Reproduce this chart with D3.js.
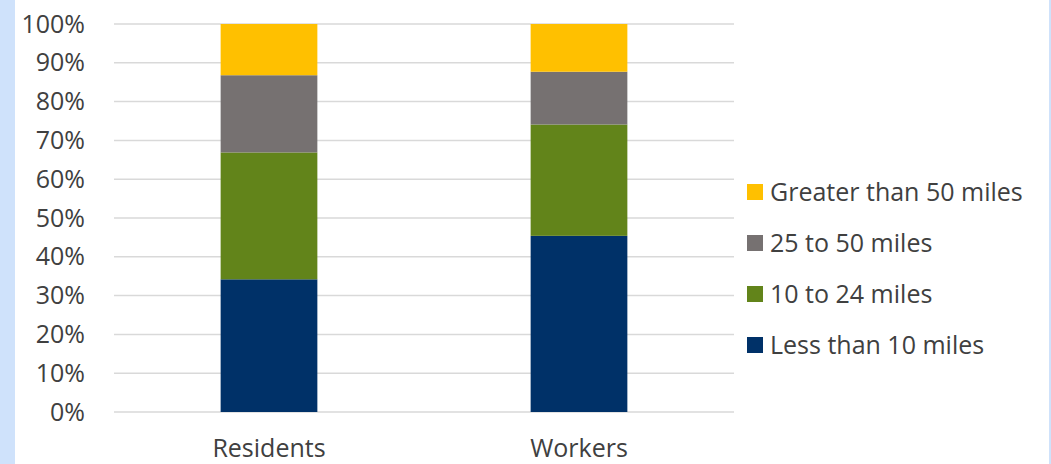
<!DOCTYPE html>
<html><head><meta charset="utf-8">
<script src="https://cdn.jsdelivr.net/npm/d3@7"></script>
<style>
html,body{margin:0;padding:0;background:#fff;}
svg{display:block;}
text{font-family:"Open Sans","Noto Sans",sans-serif;fill:#404040;}
</style></head>
<body>
<svg id="chart" width="1051" height="464"></svg>
<script>
const categories = ["Residents", "Workers"];
const seriesNames = ["Less than 10 miles", "10 to 24 miles", "25 to 50 miles", "Greater than 50 miles"];
const lessThan10 = [34.2, 45.4];
const from10to24 = [32.7, 28.7];
const from25to50 = [19.9, 13.6];
const greaterThan50 = [13.2, 12.3];
const colors = ["#003168", "#62841a", "#767171", "#ffc000"];
const yTicks = [0, 10, 20, 30, 40, 50, 60, 70, 80, 90, 100];

(function () {
const seriesValues = [lessThan10, from10to24, from25to50, greaterThan50];
const rows = categories.map((c, i) => {
  const r = {cat: c};
  seriesNames.forEach((s, j) => r[s] = seriesValues[j][i]);
  return r;
});
const stacked = d3.stack().keys(seriesNames)(rows);

const svg = d3.select("#chart");
svg.append("rect").attr("x",0).attr("y",0).attr("width",1051).attr("height",464).attr("fill","#cfe2fb");
svg.append("rect").attr("x",15).attr("y",0).attr("width",1034).attr("height",464).attr("fill","#ffffff");

const mLeft = 114, mRight = 734, mTop = 24, mBottom = 412;
const fs = "25px";
const x = d3.scaleBand().domain(categories).range([mLeft, mRight]).paddingInner(0.688).paddingOuter(0.344);
const y = d3.scaleLinear().domain([0, 100]).range([mBottom, mTop]);

const grid = svg.append("g");
grid.selectAll("line").data(yTicks).join("line")
  .attr("x1", mLeft).attr("x2", mRight)
  .attr("y1", d => y(d)).attr("y2", d => y(d))
  .attr("stroke", "#d9d9d9").attr("stroke-width", 1.5);

const yAxis = svg.append("g").attr("transform", `translate(${mLeft},0)`)
  .call(d3.axisLeft(y).tickValues(yTicks).tickFormat(d => d + "%").tickSize(0).tickPadding(29));
yAxis.select(".domain").remove();
yAxis.selectAll("text").style("font-size", fs).attr("fill","#404040");

svg.append("g").selectAll("g").data(stacked).join("g")
  .attr("fill", (d, i) => colors[i])
  .selectAll("rect").data(d => d).join("rect")
  .attr("x", d => x(d.data.cat))
  .attr("width", x.bandwidth())
  .attr("y", d => y(d[1]))
  .attr("height", d => y(d[0]) - y(d[1]));

const xAxis = svg.append("g").attr("transform", `translate(0,${mBottom})`)
  .call(d3.axisBottom(x).tickSize(0).tickPadding(27));
xAxis.select(".domain").remove();
xAxis.selectAll("text").style("font-size", fs).attr("fill","#404040");

const legendOrder = seriesNames.slice().reverse();
const legendY = [192, 243, 294, 345];
const lg = svg.append("g");
legendOrder.forEach((s, i) => {
  const g = lg.append("g").attr("transform", `translate(747,${legendY[i]})`);
  g.append("rect").attr("x", 0).attr("y", -8).attr("width", 16).attr("height", 16)
    .attr("fill", colors[seriesNames.indexOf(s)]);
  g.append("text").attr("x", 23).attr("y", 0).attr("dy", "0.35em")
    .style("font-size", fs).text(s);
});
})();
</script>
</body></html>
